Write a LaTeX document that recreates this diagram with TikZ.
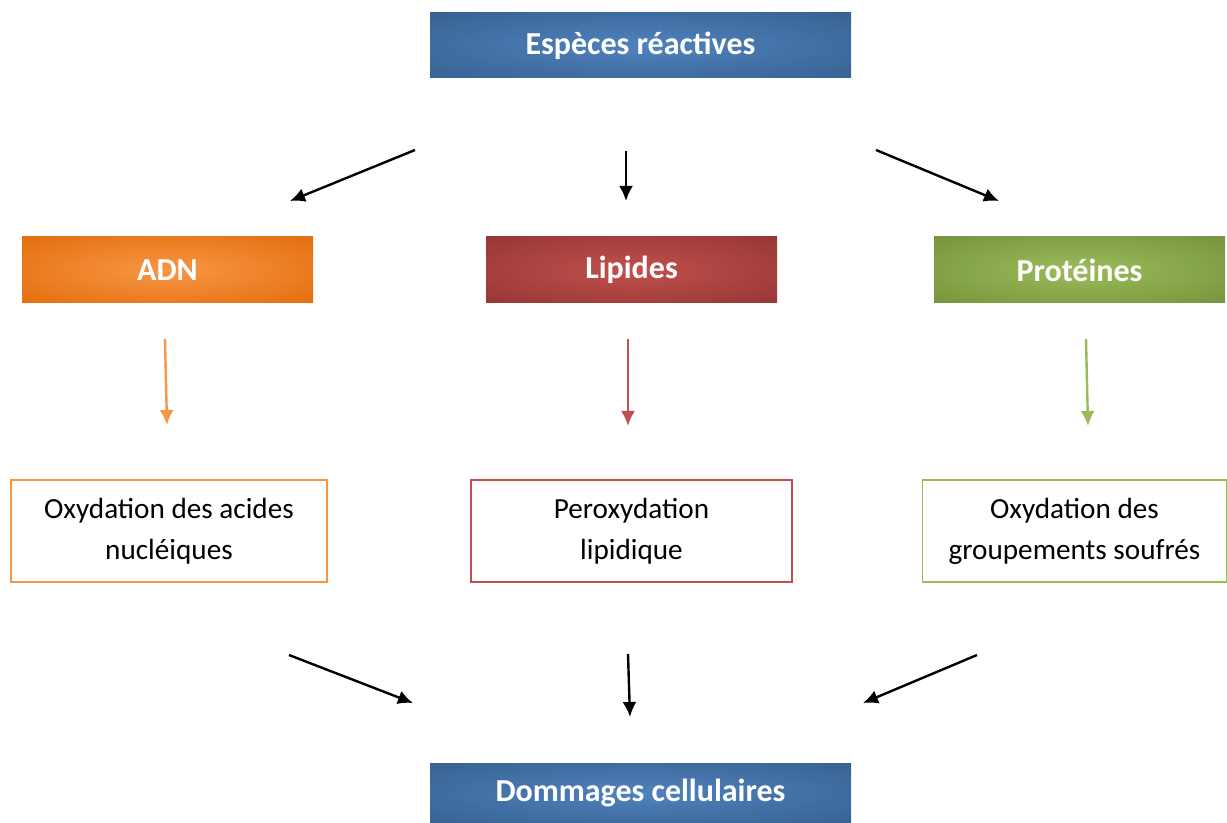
\documentclass[tikz,border=0pt]{standalone}
\usepackage{fontspec}
\setmainfont{Carlito}
\usetikzlibrary{arrows.meta,calc}

\definecolor{BlueDark}{HTML}{37608F}
\definecolor{BlueLight}{HTML}{4F82BE}
\definecolor{OrangeDark}{HTML}{E36C0A}
\definecolor{OrangeLight}{HTML}{F79646}
\definecolor{RedDark}{HTML}{943634}
\definecolor{RedLight}{HTML}{C0504D}
\definecolor{GreenDark}{HTML}{76923C}
\definecolor{GreenLight}{HTML}{9BBB59}

\begin{document}
\begin{tikzpicture}
          [
          x=0.5pt, y=-0.5pt,
          Grad/.style 2 args={path picture={
              \shade[outer color=#1, inner color=#2]
                ($(path picture bounding box.center)!1.5!(path picture bounding box.south west)$) rectangle
                ($(path picture bounding box.center)!1.5!(path picture bounding box.north east)$);}},
          Head/.style={rectangle, minimum width=210.5pt, minimum height=32.5pt, inner sep=0pt,
                       Grad={BlueDark}{BlueLight},
                       text=white, font=\fontsize{16}{19}\selectfont\bfseries},
          Cat/.style={rectangle, minimum width=145.5pt, minimum height=33pt, inner sep=0pt,
                      text=white, font=\fontsize{16}{19}\selectfont\bfseries},
          Ox/.style={rectangle, draw=#1, line width=0.75pt, fill=white, minimum height=51pt,
                     inner sep=0pt, align=center, font=\fontsize{14.6}{20.5}\selectfont},
          Arrow/.style={-{Latex[length=7.5pt,width=7pt]}, draw=#1, line width=1.2pt},
          Arrow/.default=black,
          ]
          \useasboundingbox (0,0) rectangle (1227,823);

          % Nodes
          \node[Head] (Esp) at (640.5,45.5) {Espèces réactives};
          \node[Cat, Grad={OrangeDark}{OrangeLight}] (ADN) at (167.5,270) {ADN};
          \node[Cat, Grad={RedDark}{RedLight}] (Lip) at (631.5,270) {Lipides};
          \node[Cat, Grad={GreenDark}{GreenLight}] (Prot) at (1079.5,270) {Protéines};
          \node[Ox=OrangeLight, minimum width=158pt] (OxADN) at (169,531) {Oxydation des acides\\nucléiques};
          \node[Ox=RedLight, minimum width=160.5pt] (Perox) at (631.5,531) {Peroxydation\\lipidique};
          \node[Ox=GreenLight, minimum width=152pt] (OxProt) at (1074.5,531) {Oxydation des\\groupements soufrés};
          \node[Head, minimum height=30pt] (Dom) at (640.5,793) {Dommages cellulaires};

          % Arrow ends
          \coordinate (a1) at (415,150);  \coordinate (b1) at (290,201);
          \coordinate (a2) at (626,151);  \coordinate (b2) at (626,201);
          \coordinate (a3) at (876,150);  \coordinate (b3) at (999,201);
          \coordinate (c1) at (165,339);  \coordinate (d1) at (167,425);
          \coordinate (c2) at (628,339);  \coordinate (d2) at (628,426);
          \coordinate (c3) at (1086,339); \coordinate (d3) at (1088,426);
          \coordinate (e1) at (289,655);  \coordinate (f1) at (413,703);
          \coordinate (e2) at (628,654);  \coordinate (f2) at (630,717);
          \coordinate (e3) at (977,655);  \coordinate (f3) at (863,703);

          % Lines
          \path [Arrow] (a1) -- (b1);
          \path [Arrow] (a2) -- (b2);
          \path [Arrow] (a3) -- (b3);
          \path [Arrow=OrangeLight] (c1) -- (d1);
          \path [Arrow=RedLight] (c2) -- (d2);
          \path [Arrow=GreenLight] (c3) -- (d3);
          \path [Arrow] (e1) -- (f1);
          \path [Arrow] (e2) -- (f2);
          \path [Arrow] (e3) -- (f3);
\end{tikzpicture}
\end{document}
